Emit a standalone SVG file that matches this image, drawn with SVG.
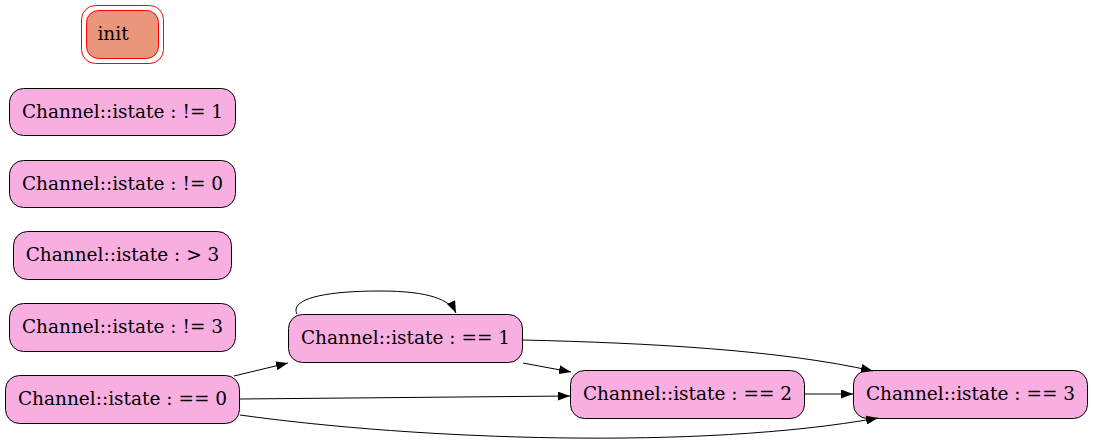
<svg xmlns="http://www.w3.org/2000/svg" width="1093" height="446" viewBox="0 0 1093 446">
<defs>
<style>
.n rect{fill:#f9aee1;stroke:#000;stroke-width:1}
text{font-family:"DejaVu Serif",serif;font-size:18.5px;fill:#000;text-anchor:middle}
.e path{fill:none;stroke:#000;stroke-width:1}
</style>
<marker id="ah" viewBox="0 0 12 9" refX="12" refY="4.5" markerWidth="12" markerHeight="9" markerUnits="userSpaceOnUse" orient="auto"><path d="M0,0L12,4.5L0,9z" fill="#000"/></marker>
</defs>
<rect width="1093" height="446" fill="#fff"/>
<g id="init">
<rect x="81.5" y="5.5" width="82" height="58" rx="14" fill="none" stroke="#f00"/>
<rect x="86.5" y="10.5" width="72" height="48" rx="12" fill="#e9967a" stroke="#f00"/>
<text x="113" y="40">init</text>
</g>
<g id="ne1" class="n"><rect x="9.5" y="88.5" width="226" height="47" rx="14"/><text x="122.5" y="117.5">Channel::istate : != 1</text></g>
<g id="ne0" class="n"><rect x="9.5" y="160.5" width="226" height="47" rx="14"/><text x="122.5" y="189.5">Channel::istate : != 0</text></g>
<g id="gt3" class="n"><rect x="13.5" y="231.5" width="218" height="48" rx="14"/><text x="122.5" y="261">Channel::istate : &gt; 3</text></g>
<g id="ne3" class="n"><rect x="9.5" y="303.5" width="226" height="48" rx="14"/><text x="122.5" y="333">Channel::istate : != 3</text></g>
<g id="eq0" class="n"><rect x="5.5" y="375.5" width="234" height="48" rx="14"/><text x="122.5" y="405">Channel::istate : == 0</text></g>
<g id="eq1" class="n"><rect x="288.5" y="314.5" width="234" height="48" rx="14"/><text x="405.5" y="344">Channel::istate : == 1</text></g>
<g id="eq2" class="n"><rect x="570.5" y="370.5" width="234" height="48" rx="14"/><text x="687.5" y="400">Channel::istate : == 2</text></g>
<g id="eq3" class="n"><rect x="853.5" y="370.5" width="234" height="48" rx="14"/><text x="970.5" y="400">Channel::istate : == 3</text></g>
<g id="edges" class="e">
<path d="M234,376L288,363" marker-end="url(#ah)"/>
<path d="M240,399L570,396" marker-end="url(#ah)"/>
<path d="M240,415C420,440 700,450 878,418" marker-end="url(#ah)"/>
<path d="M297,314C290,300 320,291 380,291C430,291 450,300 456,313" marker-end="url(#ah)"/>
<path d="M523,363L571,372" marker-end="url(#ah)"/>
<path d="M523,340C650,343 780,350 873,371" marker-end="url(#ah)"/>
<path d="M805,394L853,394" marker-end="url(#ah)"/>
</g>
</svg>
